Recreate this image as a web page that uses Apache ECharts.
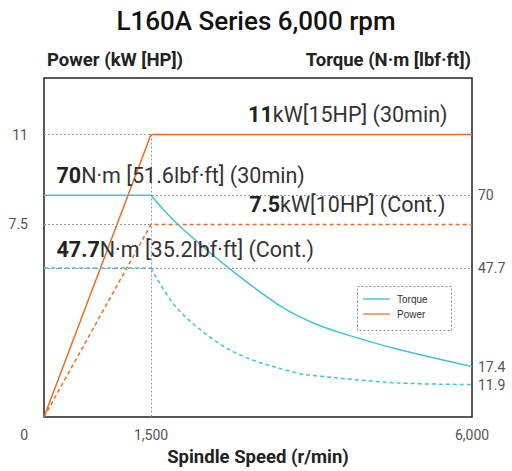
<!DOCTYPE html>
<html><head><meta charset="utf-8">
<script src="https://cdn.jsdelivr.net/npm/echarts@6/dist/echarts.min.js"></script>
<style>html,body{margin:0;padding:0;background:#fff}#c{width:512px;height:471px}</style>
</head><body><div id="c"></div>
<script>
// ---- text ----
const titleText = 'L160A Series 6,000 rpm';
const powerAxisName = 'Power (kW [HP])';
const torqueAxisName = 'Torque (N·m [lbf·ft])';
const speedAxisName = 'Spindle Speed (r/min)';

// ---- tick labels ----
const speedTicks = [1500, 6000];
const powerTicks = [0, 7.5, 11];
const torqueTicks = [11.9, 17.4, 47.7, 70];

// ---- power (kW) ----
const powerSpeed = [0, 1500, 6000];
const power30min = [0, 11, 11];
const powerCont = [0, 7.5, 7.5];

// ---- torque (N·m) ----
const torqueFlatSpeed = [0, 1500];
const torque30Flat = [70, 70];
const torqueContFlat = [47.7, 47.7];
const torque30Speed = [1500, 1716, 1933, 2582, 3327, 3807, 4337, 4961, 6000];
const torque30Curve = [70, 64.6, 59.9, 47.8, 35.8, 30.5, 26.6, 22.7, 17.4];
const torqueContSpeed = [1500, 1836, 2318, 2798, 3519, 3807, 4961, 6000];
const torqueContCurve = [47.7, 36.1, 26.6, 20.5, 15.6, 14.6, 12.4, 11.9];

// ---- rated points / annotations ----
const kneeSpeed = 1500, maxSpeed = 6000;
const power30Rated = 11, powerContRated = 7.5;
const torque30Rated = 70, torqueContRated = 47.7;
const notePower30 = ['11', 'kW[15HP] (30min)'];
const notePowerCont = ['7.5', 'kW[10HP] (Cont.)'];
const noteTorque30 = ['70', 'N·m [51.6lbf·ft] (30min)'];
const noteTorqueCont = ['47.7', 'N·m [35.2lbf·ft] (Cont.)'];

const pairs = (xs, ys) => xs.map((x, i) => [x, ys[i]]);
const CYAN = '#3ec5dc', ORANGE = '#f26a21', GUIDE = '#9a9a9a';
const FONT = 'Roboto';
const noteRich = {
  b: { fontFamily: FONT, fontWeight: 'bold', fontSize: 21.5, color: '#222' },
  r: { fontFamily: FONT, fontWeight: 'normal', fontSize: 21.5, color: '#333' }
};
function note(coord, txt, pos, align) {
  return {
    coord: coord,
    symbol: 'rect', symbolSize: 1, itemStyle: { color: 'rgba(0,0,0,0)' },
    label: {
      show: true, position: pos, align: align, verticalAlign: 'middle',
      formatter: '{b|' + txt[0] + '}{r|' + txt[1] + '}', rich: noteRich
    }
  };
}
const dotted = { type: [2, 2], color: GUIDE, width: 1 };
const axisNameStyle = { fontFamily: FONT, fontWeight: 'bold', fontSize: 18.5, color: '#222', verticalAlign: 'middle' };

const chart = echarts.init(document.getElementById('c'), null, { renderer: 'svg' });
chart.setOption({
  animation: false,
  backgroundColor: '#fff',
  title: {
    text: titleText, left: 'center', top: 3,
    textStyle: { fontFamily: FONT, fontSize: 26, fontWeight: 500, color: '#111' }
  },
  grid: { left: 44, right: 40, top: 78, bottom: 52, show: true, borderColor: '#222', borderWidth: 1.5 },
  legend: {
    data: [
      { name: 'Torque', itemStyle: { color: '#7dd5e6' } },
      { name: 'Power', itemStyle: { color: '#f5a374' } }
    ],
    orient: 'vertical', left: 363, top: 293, padding: 0, itemGap: 3,
    icon: 'rect', itemWidth: 27, itemHeight: 2,
    textStyle: { fontFamily: 'Liberation Sans', fontSize: 10, color: '#333', lineHeight: 12, padding: [0, 0, 0, 2] }
  },
  graphic: [{
    type: 'rect', left: 355, top: 284, silent: true,
    shape: { width: 94, height: 44 },
    style: { fill: 'none', stroke: '#8a8a8a', lineWidth: 1, lineDash: [2, 2] }
  }],
  xAxis: {
    type: 'value', min: 0, max: maxSpeed,
    name: speedAxisName, nameLocation: 'middle', nameGap: 38,
    nameTextStyle: axisNameStyle,
    axisLine: { show: false }, axisTick: { show: false }, splitLine: { show: false },
    axisLabel: {
      customValues: speedTicks, margin: 11,
      fontFamily: FONT, fontSize: 14, color: '#555',
      formatter: v => v.toLocaleString('en-US')
    }
  },
  yAxis: [{
    type: 'value', min: 0, max: 13.2, position: 'left',
    name: powerAxisName, nameLocation: 'end', nameGap: 18,
    nameTextStyle: Object.assign({}, axisNameStyle, { align: 'left', padding: [0, 0, 0, 3] }),
    axisLine: { show: false }, axisTick: { show: false }, splitLine: { show: false },
    axisLabel: {
      customValues: powerTicks, margin: 16,
      fontFamily: FONT, fontSize: 14, color: '#555',
      formatter: v => v === 0 ? '{o|0}' : String(v),
      rich: { o: { fontFamily: FONT, fontSize: 14, color: '#555', padding: [36, 0, 0, 0] } }
    }
  }, {
    type: 'value', min: 1.9, max: 106, position: 'right',
    name: torqueAxisName, nameLocation: 'end', nameGap: 18,
    nameTextStyle: Object.assign({}, axisNameStyle, { align: 'right', padding: [0, 1, 0, 0] }),
    axisLine: { show: false }, axisTick: { show: false }, splitLine: { show: false },
    axisLabel: {
      customValues: torqueTicks, margin: 6,
      fontFamily: FONT, fontSize: 14, color: '#555',
      formatter: v => String(v)
    }
  }],
  series: [
    { // guide lines on power axis
      type: 'line', name: 'guidesP', yAxisIndex: 0, data: [], z: 1,
      markLine: {
        silent: true, symbol: 'none', label: { show: false }, lineStyle: dotted,
        data: [
          [{ coord: [0, power30Rated] }, { coord: [kneeSpeed, power30Rated] }],
          [{ coord: [0, powerContRated] }, { coord: [kneeSpeed, powerContRated] }],
          [{ coord: [kneeSpeed, power30Rated] }, { coord: [kneeSpeed, 0] }]
        ]
      },
      markPoint: {
        silent: true,
        data: [
          note([maxSpeed, power30Rated], notePower30, [-24, -20], 'right'),
          note([maxSpeed, powerContRated], notePowerCont, [-26, -19], 'right')
        ]
      }
    },
    { // guide lines on torque axis
      type: 'line', name: 'guidesT', yAxisIndex: 1, data: [], z: 1,
      markLine: {
        silent: true, symbol: 'none', label: { show: false }, lineStyle: dotted,
        data: [{ yAxis: torque30Rated }, { yAxis: torqueContRated }]
      },
      markPoint: {
        silent: true,
        data: [
          note([0, torque30Rated], noteTorque30, [13, -19], 'left'),
          note([0, torqueContRated], noteTorqueCont, [13, -18], 'left')
        ]
      }
    },
    { name: 'Power', type: 'line', yAxisIndex: 0, z: 3, symbol: 'none',
      data: pairs(powerSpeed, power30min), lineStyle: { color: ORANGE, width: 1.5 }, itemStyle: { color: ORANGE } },
    { name: 'Power', type: 'line', yAxisIndex: 0, z: 3, symbol: 'none',
      data: pairs(powerSpeed, powerCont), lineStyle: { color: ORANGE, width: 1.5, type: [4, 3] }, itemStyle: { color: ORANGE } },
    { name: 'Torque', type: 'line', yAxisIndex: 1, z: 3, symbol: 'none',
      data: pairs(torqueFlatSpeed, torque30Flat), lineStyle: { color: CYAN, width: 1.5 }, itemStyle: { color: CYAN } },
    { name: 'Torque', type: 'line', yAxisIndex: 1, z: 3, symbol: 'none', smooth: 0.35,
      data: pairs(torque30Speed, torque30Curve), lineStyle: { color: CYAN, width: 1.5 }, itemStyle: { color: CYAN } },
    { name: 'Torque', type: 'line', yAxisIndex: 1, z: 3, symbol: 'none',
      data: pairs(torqueFlatSpeed, torqueContFlat), lineStyle: { color: CYAN, width: 1.5, type: [4, 3] }, itemStyle: { color: CYAN } },
    { name: 'Torque', type: 'line', yAxisIndex: 1, z: 3, symbol: 'none', smooth: 0.35,
      data: pairs(torqueContSpeed, torqueContCurve), lineStyle: { color: CYAN, width: 1.5, type: [4, 3] }, itemStyle: { color: CYAN } }
  ]
});
</script></body></html>
